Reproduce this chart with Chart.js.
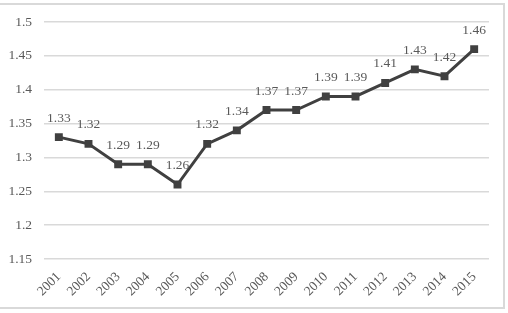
<!DOCTYPE html>
<html>
<head>
<meta charset="utf-8">
<script src="https://cdn.jsdelivr.net/npm/chart.js@4/dist/chart.umd.min.js"></script>
<style>
html,body{margin:0;padding:0;background:#fff;}
#wrap{position:absolute;left:0;top:0;width:508px;height:313px;}
#frame{position:absolute;left:-4px;top:3px;width:507px;height:302px;border:2px solid #d9d9d9;border-left:none;box-sizing:content-box;}
</style>
</head>
<body>
<div id="frame"></div>
<div id="wrap"><canvas id="c" width="508" height="313"></canvas></div>
<script>
const categories = ['2001','2002','2003','2004','2005','2006','2007','2008','2009','2010','2011','2012','2013','2014','2015'];
const values = [1.33,1.32,1.29,1.29,1.26,1.32,1.34,1.37,1.37,1.39,1.39,1.41,1.43,1.42,1.46];
const yTicks = [1.15,1.2,1.25,1.3,1.35,1.4,1.45,1.5];

const FONT = "'Liberation Serif', 'DejaVu Serif', serif";

const labelPlugin = {
  id: 'pointLabels',
  afterDatasetsDraw(chart) {
    const ctx = chart.ctx;
    const meta = chart.getDatasetMeta(0);
    ctx.save();
    ctx.font = "13.5px " + FONT;
    ctx.fillStyle = '#595959';
    ctx.textAlign = 'center';
    ctx.textBaseline = 'middle';
    meta.data.forEach((pt, i) => {
      ctx.fillText(String(values[i]), pt.x, pt.y - 19);
    });
    ctx.restore();
  }
};

new Chart(document.getElementById('c'), {
  type: 'line',
  data: {
    labels: categories,
    datasets: [{
      data: values,
      borderColor: '#404040',
      backgroundColor: '#404040',
      borderWidth: 3,
      pointStyle: 'rect',
      pointRadius: 5.6,
      pointBackgroundColor: '#404040',
      pointBorderColor: '#404040',
      pointBorderWidth: 0,
      tension: 0,
      fill: false
    }]
  },
  options: {
    responsive: false,
    animation: false,
    devicePixelRatio: 1,
    layout: { padding: { left: 0, right: 19, top: 22, bottom: 0 } },
    plugins: { legend: { display: false }, tooltip: { enabled: false } },
    scales: {
      x: {
        type: 'category',
        offset: true,
        grid: { display: false, drawTicks: false },
        border: { display: false },
        ticks: {
          color: '#595959',
          font: { family: FONT, size: 13.5 },
          minRotation: 45,
          maxRotation: 45,
          padding: 10,
          autoSkip: false
        },
        afterFit(s) { s.height = 54; }
      },
      y: {
        min: 1.15,
        max: 1.5,
        grid: { color: '#d9d9d9', lineWidth: 1.5, drawTicks: false },
        border: { display: false },
        afterBuildTicks(s) { s.ticks = yTicks.map(v => ({ value: v })); },
        ticks: {
          color: '#595959',
          font: { family: FONT, size: 13.5 },
          padding: 12,
          callback: (v) => String(v)
        },
        afterFit(s) { s.width = 44; }
      }
    }
  },
  plugins: [labelPlugin]
});
</script>
</body>
</html>
